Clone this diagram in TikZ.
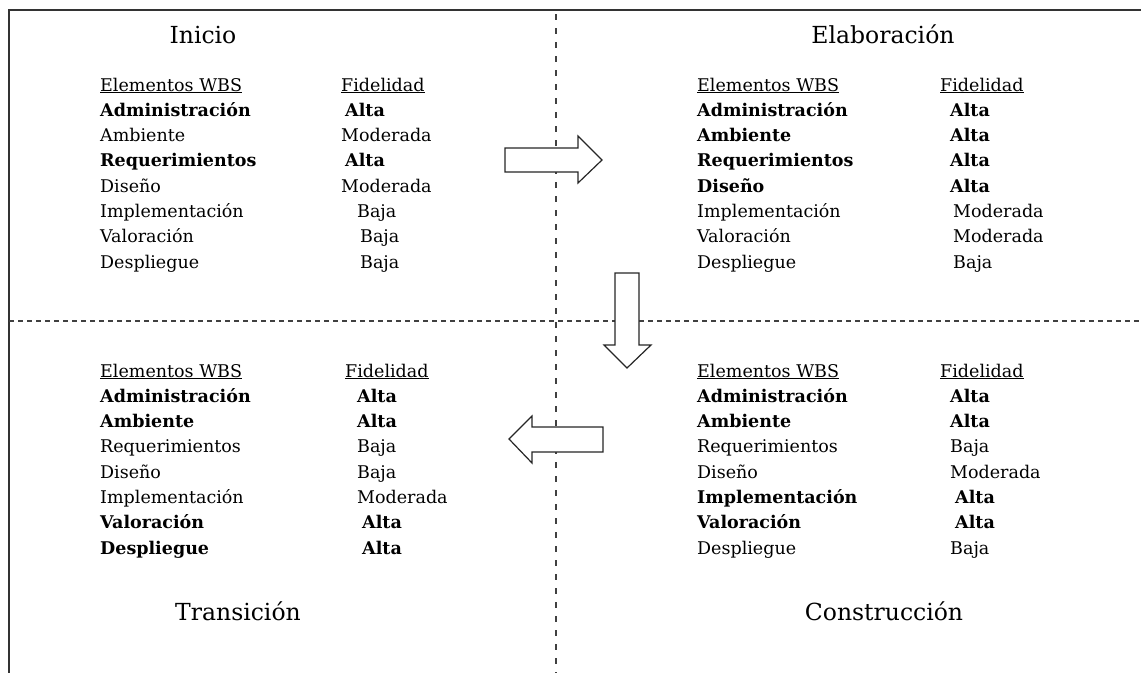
\documentclass[tikz,border=0pt]{standalone}
\usepackage{fontspec}
\setmainfont{DejaVu Serif}
\begin{document}
\begin{tikzpicture}[x=1pt,y=-1pt,
  cell/.style={anchor=base west,inner sep=0pt,font=\fontsize{17.5}{19}\selectfont},
  phase/.style={anchor=base,inner sep=0pt,font=\fontsize{23.5}{26}\selectfont},
  frame/.style={line width=1.6pt,draw=black!80},
  divider/.style={line width=1.3pt,draw=black!75},
  blockarrow/.style={draw=black!85,line width=1.2pt,fill=white,line join=miter}]
\useasboundingbox (0,0) rectangle (1141,673);

% outer frame: top and left edges only
\draw[frame] (8,10) -- (1141,10);
\draw[frame] (9,10) -- (9,673);

% quadrant dividers
\draw[divider,dash pattern=on 5pt off 4pt] (9,321) -- (1141,321);
\draw[divider,dash pattern=on 6pt off 8pt] (556,14) -- (556,673);

% phase titles
\node[phase] (inicio) at (203,43) {Inicio};
\node[phase] (elab) at (883,43) {Elaboración};
\node[phase] (trans) at (238,620) {Transición};
\node[phase] (constr) at (884,620) {Construcción};

% column headers
\node[cell] (tl-h) at (100,91) {\underline{Elementos WBS}};
\node[cell] (tl-f) at (341,91) {\underline{Fidelidad}};
\node[cell] (tr-h) at (697,91) {\underline{Elementos WBS}};
\node[cell] (tr-f) at (940,91) {\underline{Fidelidad}};
\node[cell] (bl-h) at (100,377) {\underline{Elementos WBS}};
\node[cell] (bl-f) at (345,377) {\underline{Fidelidad}};
\node[cell] (br-h) at (697,377) {\underline{Elementos WBS}};
\node[cell] (br-f) at (940,377) {\underline{Fidelidad}};

% Inicio
\foreach \i/\w/\v/\vx/\b in {
  1/Administración/Alta/345/1,
  2/Ambiente/Moderada/341/0,
  3/Requerimientos/Alta/345/1,
  4/Diseño/Moderada/341/0,
  5/Implementación/Baja/357/0,
  6/Valoración/Baja/360/0,
  7/Despliegue/Baja/360/0}{
  \node[cell] (tl-n\i) at (100,{91+25.3*\i}) {\ifnum\b=1 \bfseries\fi\w};
  \node[cell] (tl-v\i) at (\vx,{91+25.3*\i}) {\ifnum\b=1 \bfseries\fi\v};
}

% Elaboración
\foreach \i/\w/\v/\vx/\b in {
  1/Administración/Alta/950/1,
  2/Ambiente/Alta/950/1,
  3/Requerimientos/Alta/950/1,
  4/Diseño/Alta/950/1,
  5/Implementación/Moderada/953/0,
  6/Valoración/Moderada/953/0,
  7/Despliegue/Baja/953/0}{
  \node[cell] (tr-n\i) at (697,{91+25.3*\i}) {\ifnum\b=1 \bfseries\fi\w};
  \node[cell] (tr-v\i) at (\vx,{91+25.3*\i}) {\ifnum\b=1 \bfseries\fi\v};
}

% Transición
\foreach \i/\w/\v/\vx/\b in {
  1/Administración/Alta/357/1,
  2/Ambiente/Alta/357/1,
  3/Requerimientos/Baja/357/0,
  4/Diseño/Baja/357/0,
  5/Implementación/Moderada/357/0,
  6/Valoración/Alta/362/1,
  7/Despliegue/Alta/362/1}{
  \node[cell] (bl-n\i) at (100,{377+25.3*\i}) {\ifnum\b=1 \bfseries\fi\w};
  \node[cell] (bl-v\i) at (\vx,{377+25.3*\i}) {\ifnum\b=1 \bfseries\fi\v};
}

% Construcción
\foreach \i/\w/\v/\vx/\b in {
  1/Administración/Alta/950/1,
  2/Ambiente/Alta/950/1,
  3/Requerimientos/Baja/950/0,
  4/Diseño/Moderada/950/0,
  5/Implementación/Alta/955/1,
  6/Valoración/Alta/955/1,
  7/Despliegue/Baja/950/0}{
  \node[cell] (br-n\i) at (697,{377+25.3*\i}) {\ifnum\b=1 \bfseries\fi\w};
  \node[cell] (br-v\i) at (\vx,{377+25.3*\i}) {\ifnum\b=1 \bfseries\fi\v};
}

% block arrows between phases
\draw[blockarrow] (505,148) -- (578,148) -- (578,136) -- (602,160) -- (578,183)
  -- (578,172) -- (505,172) -- cycle;
\draw[blockarrow] (615,273) -- (639,273) -- (639,345) -- (651,345) -- (627,368)
  -- (604,345) -- (615,345) -- cycle;
\draw[blockarrow] (603,427) -- (532,427) -- (532,416) -- (509,439) -- (532,463)
  -- (532,452) -- (603,452) -- cycle;
\end{tikzpicture}
\end{document}
